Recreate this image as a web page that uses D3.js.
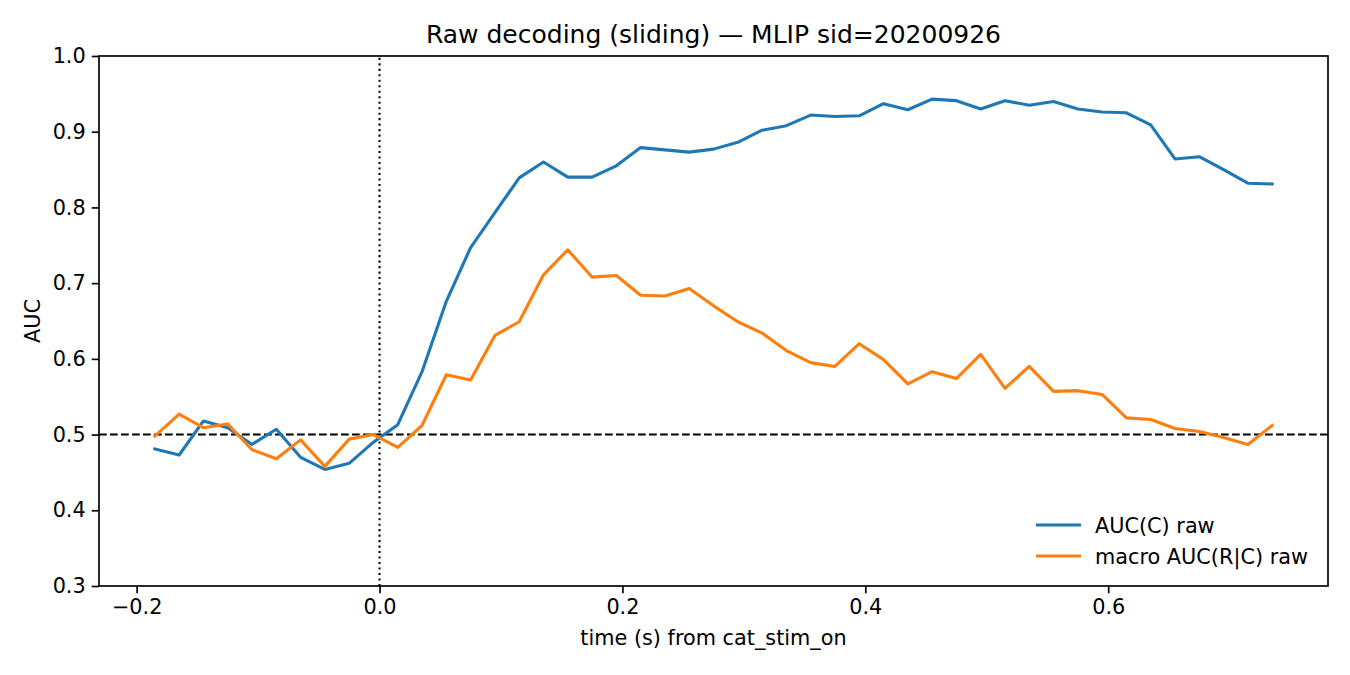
<!DOCTYPE html>
<html>
<head>
<meta charset="utf-8">
<script src="https://cdn.jsdelivr.net/npm/d3@7"></script>
<style>
  body { margin: 0; background: #fff; }
  text { font-family: "DejaVu Sans", sans-serif; fill: #000; }
</style>
</head>
<body>
<div class="chart-container"></div>
<script>
/********** the Data **********/
// sliding-window centres, -0.185 s to 0.735 s in 0.02 s steps
const times = [
  -0.185, -0.165, -0.145, -0.125, -0.105, -0.085, -0.065, -0.045, -0.025, -0.005,
   0.015,  0.035,  0.055,  0.075,  0.095,  0.115,  0.135,  0.155,  0.175,  0.195,
   0.215,  0.235,  0.255,  0.275,  0.295,  0.315,  0.335,  0.355,  0.375,  0.395,
   0.415,  0.435,  0.455,  0.475,  0.495,  0.515,  0.535,  0.555,  0.575,  0.595,
   0.615,  0.635,  0.655,  0.675,  0.695,  0.715,  0.735
];

const aucC = [
  0.481, 0.473, 0.518, 0.509, 0.487, 0.507, 0.470, 0.454, 0.462, 0.490,
  0.513, 0.583, 0.676, 0.747, 0.793, 0.839, 0.860, 0.840, 0.840, 0.855,
  0.879, 0.876, 0.873, 0.877, 0.886, 0.902, 0.908, 0.922, 0.920, 0.921,
  0.937, 0.929, 0.943, 0.941, 0.930, 0.941, 0.935, 0.940, 0.930, 0.926,
  0.925, 0.909, 0.864, 0.867, 0.850, 0.832, 0.831
];

const aucRC = [
  0.498, 0.527, 0.509, 0.514, 0.480, 0.468, 0.493, 0.458, 0.494, 0.500,
  0.483, 0.512, 0.579, 0.572, 0.631, 0.649, 0.711, 0.744, 0.708, 0.710,
  0.684, 0.683, 0.693, 0.670, 0.649, 0.634, 0.611, 0.595, 0.590, 0.620,
  0.599, 0.567, 0.583, 0.574, 0.606, 0.561, 0.590, 0.557, 0.558, 0.553,
  0.522, 0.520, 0.508, 0.504, 0.496, 0.487, 0.512
];

const seriesNames = ["AUC(C) raw", "macro AUC(R|C) raw"];
const seriesColors = ["#1f77b4", "#ff7f0e"];
const xTicks = [-0.2, 0.0, 0.2, 0.4, 0.6];
const yTicks = [0.3, 0.4, 0.5, 0.6, 0.7, 0.8, 0.9, 1.0];

/********** drawChart function **********/
function drawChart() {
  let width = 1350;
  let height = 675;
  let margin = {top: 56, right: 22, bottom: 89, left: 99};
  let fs = 20.8; // 10pt at 150 dpi

  // matplotlib-style 5% padding on x
  let span = times[times.length - 1] - times[0];
  let xScale = d3.scaleLinear()
    .domain([times[0] - span * 0.05, times[times.length - 1] + span * 0.05])
    .range([margin.left, width - margin.right]);

  let yScale = d3.scaleLinear()
    .domain([0.3, 1.0])
    .range([height - margin.bottom, margin.top]);

  let svg = d3.select(".chart-container")
    .append("svg")
      .attr("width", width)
      .attr("height", height);

  // reference lines
  svg.append("line")
    .attr("x1", xScale.range()[0]).attr("x2", xScale.range()[1])
    .attr("y1", yScale(0.5)).attr("y2", yScale(0.5))
    .attr("stroke", "#000").attr("stroke-width", 2.08)
    .attr("stroke-dasharray", "7.7,3.3");

  svg.append("line")
    .attr("x1", xScale(0)).attr("x2", xScale(0))
    .attr("y1", yScale.range()[0]).attr("y2", yScale.range()[1])
    .attr("stroke", "#000").attr("stroke-width", 2.08)
    .attr("stroke-dasharray", "2.08,3.4");

  // series lines
  let line = d3.line()
    .x((d, i) => xScale(times[i]))
    .y(d => yScale(d));

  [aucC, aucRC].forEach((vals, k) => {
    svg.append("path")
      .datum(vals)
      .attr("fill", "none")
      .attr("stroke", seriesColors[k])
      .attr("stroke-width", 3.1)
      .attr("stroke-linejoin", "round")
      .attr("stroke-linecap", "square")
      .attr("d", line);
  });

  // axes
  let xAxis = d3.axisBottom(xScale)
    .tickValues(xTicks)
    .tickSize(7.3).tickPadding(6)
    .tickFormat(d3.format(".1f"));
  let yAxis = d3.axisLeft(yScale)
    .tickValues(yTicks)
    .tickSize(7.3).tickPadding(6)
    .tickFormat(d3.format(".1f"));

  let gx = svg.append("g")
    .attr("transform", `translate(0, ${height - margin.bottom})`)
    .call(xAxis);
  let gy = svg.append("g")
    .attr("transform", `translate(${margin.left}, 0)`)
    .call(yAxis);

  [gx, gy].forEach(g => {
    g.select(".domain").remove();
    g.selectAll(".tick line").attr("stroke", "#000").attr("stroke-width", 1.67);
    g.selectAll(".tick text")
      .attr("font-size", fs)
      .attr("font-family", "DejaVu Sans")
      .text(function () { return this.textContent.replace("-", "\u2212"); });
  });

  // frame
  svg.append("rect")
    .attr("x", margin.left).attr("y", margin.top)
    .attr("width", width - margin.left - margin.right)
    .attr("height", height - margin.top - margin.bottom)
    .attr("fill", "none")
    .attr("stroke", "#000").attr("stroke-width", 1.67);

  // labels
  let cx = (margin.left + width - margin.right) / 2;
  svg.append("text")
    .attr("x", cx).attr("y", 43)
    .attr("text-anchor", "middle")
    .attr("font-size", 25)
    .text("Raw decoding (sliding) \u2014 MLIP sid=20200926");

  svg.append("text")
    .attr("x", cx).attr("y", 645)
    .attr("text-anchor", "middle")
    .attr("font-size", fs)
    .text("time (s) from cat_stim_on");

  svg.append("text")
    .attr("transform", `translate(40, ${(margin.top + height - margin.bottom) / 2}) rotate(-90)`)
    .attr("text-anchor", "middle")
    .attr("font-size", fs)
    .text("AUC");

  // legend, no frame, lower right
  let legend = svg.append("g");
  seriesNames.forEach((name, k) => {
    let ly = 525 + k * 31;
    legend.append("line")
      .attr("x1", 1036).attr("x2", 1081)
      .attr("y1", ly).attr("y2", ly)
      .attr("stroke", seriesColors[k]).attr("stroke-width", 3.1);
    legend.append("text")
      .attr("x", 1095).attr("y", ly + 7.5)
      .attr("font-size", fs)
      .text(name);
  });
}

drawChart();
</script>
</body>
</html>
